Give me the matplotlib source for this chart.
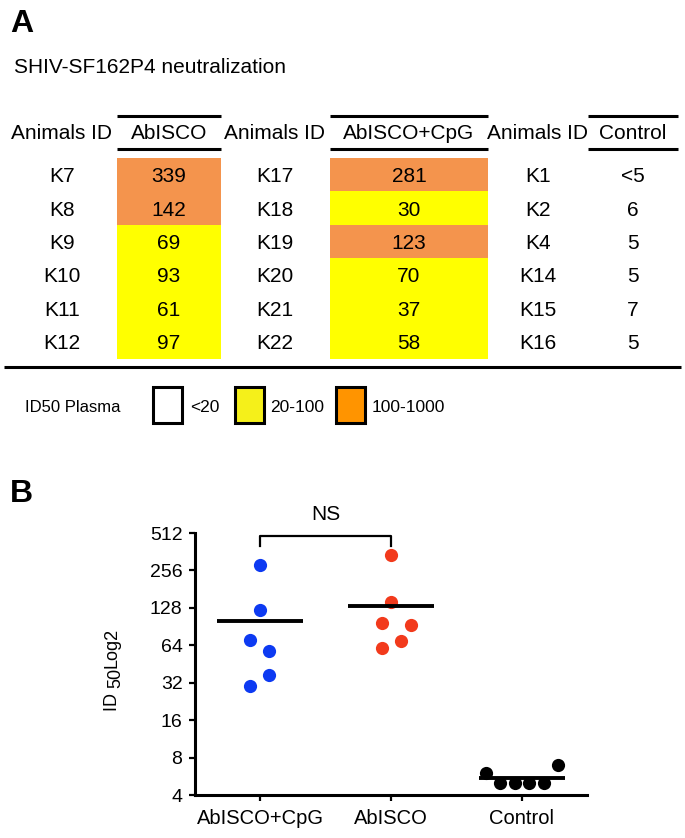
import matplotlib
matplotlib.use('Agg')
import matplotlib.pyplot as plt
from matplotlib.patches import Rectangle
import numpy as np

plt.rcParams['font.family'] = ['Liberation Sans', 'DejaVu Sans']

# data
ids_abisco = ['K7', 'K8', 'K9', 'K10', 'K11', 'K12']
titers_abisco = [339, 142, 69, 93, 61, 97]
ids_cpg = ['K17', 'K18', 'K19', 'K20', 'K21', 'K22']
titers_cpg = [281, 30, 123, 70, 37, 58]
ids_ctrl = ['K1', 'K2', 'K4', 'K14', 'K15', 'K16']
ctrl_labels = ['<5', '6', '5', '5', '7', '5']
titers_ctrl = [5, 6, 5, 5, 7, 5]   # <5 plotted as 5

groups = ['AbISCO+CpG', 'AbISCO', 'Control']
legend_labels = ['<20', '20-100', '100-1000']
yticks = [4, 8, 16, 32, 64, 128, 256, 512]

# colours
c_orange = '#F4944D'
c_yellow = '#FFFF00'
leg_colors = ['white', '#F5F01A', '#FF9400']
dot_colors = ['#0D3AF2', '#F23A1C', 'black']

# beeswarm offsets (pixels) for each point, layout only
dx_cpg = [0, -10, 0, -10, 9, 9]
dx_abisco = [0, 0, 10, 20, -9, -9]
dx_ctrl = [-22, -36, -7, 7, 36, 22]

fig = plt.figure(figsize=(6.85, 8.38), dpi=100)
ax0 = fig.add_axes([0, 0, 1, 1])
ax0.set_xlim(0, 685)
ax0.set_ylim(838, 0)
ax0.axis('off')

# ---------------- panel A ----------------
ax0.text(10, 32, 'A', fontsize=23, fontweight='bold', va='baseline')
ax0.text(14, 73, 'SHIV-SF162P4 neutralization', fontsize=15, va='baseline')

def cell_color(v):
    if v >= 100:
        return c_orange
    if v >= 20:
        return c_yellow
    return None

table = [
    (ids_abisco, titers_abisco, [str(v) for v in titers_abisco], 'AbISCO', 62, 117, 221),
    (ids_cpg, titers_cpg, [str(v) for v in titers_cpg], 'AbISCO+CpG', 275, 330, 488),
    (ids_ctrl, titers_ctrl, ctrl_labels, 'Control', 538, 588, 678),
]
row_top = 158
row_h = 33.4
for ids, vals, labels, head, idx, x0, x1 in table:
    ax0.text(idx, 139, 'Animals ID', fontsize=15, ha='center', va='baseline')
    ax0.text((x0 + x1) / 2, 139, head, fontsize=15, ha='center', va='baseline')
    ax0.plot([x0, x1], [116, 116], color='black', lw=2.2, solid_capstyle='butt')
    ax0.plot([x0, x1], [149, 149], color='black', lw=2.2, solid_capstyle='butt')
    for i, (aid, v, lab) in enumerate(zip(ids, vals, labels)):
        yt = row_top + i * row_h
        c = cell_color(v)
        if c is not None:
            ax0.add_patch(Rectangle((x0, yt), x1 - x0, row_h + 0.6, facecolor=c,
                                    edgecolor='none', lw=0))
        yb = yt + row_h / 2 + 7.5
        ax0.text(idx, yb, aid, fontsize=15, ha='center', va='baseline')
        ax0.text((x0 + x1) / 2, yb, lab, fontsize=15, ha='center', va='baseline')

ax0.plot([4, 681], [367, 367], color='black', lw=2.2, solid_capstyle='butt')

# legend
ax0.text(25, 412, 'ID50 Plasma', fontsize=12, va='baseline')
for bx, tx, lab, fc in zip([153, 235, 336], [190, 270, 372], legend_labels, leg_colors):
    ax0.add_patch(Rectangle((bx, 387), 29, 36, facecolor=fc, edgecolor='black', lw=2.2))
    ax0.text(tx, 412, lab, fontsize=12.5, va='baseline')

# ---------------- panel B ----------------
ax0.text(10, 502, 'B', fontsize=23, fontweight='bold', va='baseline')

ax = fig.add_axes([195 / 685, (838 - 795) / 838, (587 - 195) / 685, 262 / 838])
ax.set_yscale('log', base=2)
ax.set_ylim(4, 512)
ax.set_xlim(-0.5, 2.5)
px = 130.7  # pixels per x unit

series = [(titers_cpg, dx_cpg), (titers_abisco, dx_abisco), (titers_ctrl, dx_ctrl)]
for k, ((vals, dx), col) in enumerate(zip(series, dot_colors)):
    xs = k + np.array(dx) / px
    ax.plot(xs, vals, 'o', color=col, markersize=9.5, markeredgewidth=0,
            clip_on=False, zorder=3)
    m = np.mean(vals)
    ax.plot([k - 0.33, k + 0.33], [m, m], color='black', lw=2.8,
            solid_capstyle='butt', zorder=4)

# NS bracket
ax.plot([0, 0, 1, 1], [400, 484, 484, 400], color='black', lw=1.6, clip_on=False)
ax.text(0.5, 650, 'NS', fontsize=15, ha='center', va='baseline')

ax.set_xticks(range(len(groups)))
ax.set_xticklabels(groups, fontsize=14.5)
ax.set_yticks(yticks)
ax.set_yticklabels([str(t) for t in yticks], fontsize=14)
ax.minorticks_off()
ax.tick_params(axis='y', length=4, width=1.6, pad=5)
ax.tick_params(axis='x', length=4, width=1.6, pad=6)
for s in ['top', 'right']:
    ax.spines[s].set_visible(False)
for s in ['left', 'bottom']:
    ax.spines[s].set_linewidth(2.2)

# y label "ID 50Log2" with 50 dropped slightly, built from pieces
renderer = fig.canvas.get_renderer()
ypos = 711
for piece, shift in [('ID ', 0), ('50', 3.5), ('Log2', 0)]:
    t = ax0.text(117 + shift, ypos, piece, fontsize=13, rotation=90,
                 rotation_mode='anchor', ha='left', va='baseline')
    ext = t.get_window_extent(renderer)
    ypos -= ext.height

fig.savefig('out.png', dpi=100)
